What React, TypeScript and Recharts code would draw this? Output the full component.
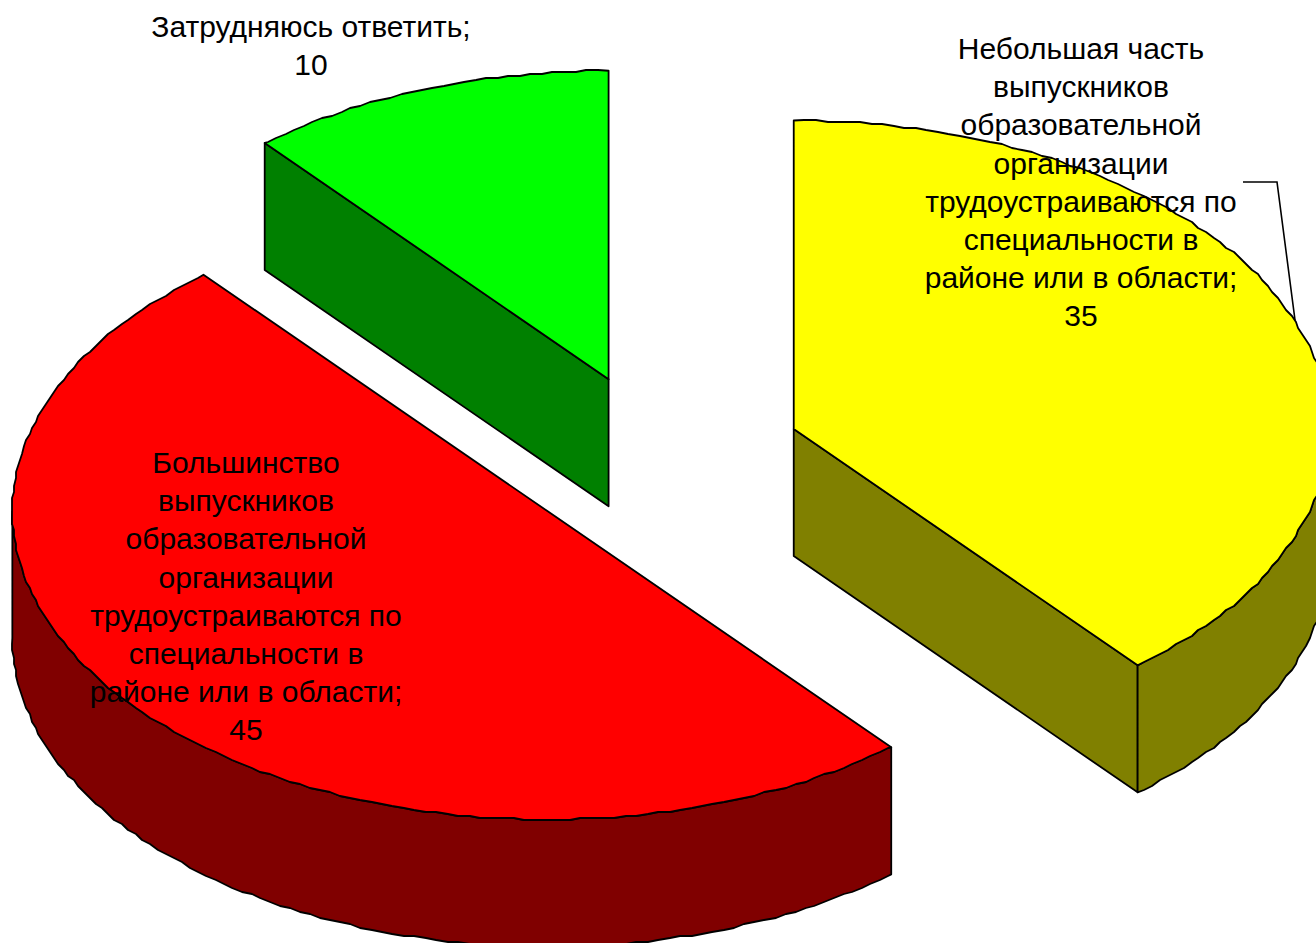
import React from 'react';
import { PieChart, Pie, Cell } from 'recharts';

const categories = [
    'Небольшая часть выпускников образовательной организации трудоустраиваются по специальности в районе или в области',
    'Большинство выпускников образовательной организации трудоустраиваются по специальности в районе или в области',
    'Затрудняюсь ответить',
];
const values = [35, 45, 10];
const topColors = ['#ffff00', '#ff0000', '#00ff00'];
const sideColors = ['#808000', '#800000', '#008000'];

// how each label is broken up, same order as categories
const labelLines = [
    ['Небольшая часть', 'выпускников', 'образовательной', 'организации', 'трудоустраиваются по', 'специальности в', 'районе или в области;'],
    ['Большинство', 'выпускников', 'образовательной', 'организации', 'трудоустраиваются по', 'специальности в', 'районе или в области;'],
    ['Затрудняюсь ответить;'],
];
const labelAnchors = [
    { x: 1081, y: 59 },
    { x: 246, y: 473 },
    { x: 311, y: 37 },
];

const WIDTH = 1316;
const HEIGHT = 943;
const CX = 658;
const CY = 457.5;
const RX = 535;
const RY = 308.5;
const DEPTH = 127;
const EXPLODE = 0.27;
const LINE_HEIGHT = 38.2;
const FONT_SIZE = 30;
const ARC_STEP = 1.2;

const chartData = categories.map((name, i) => ({ name, value: values[i] }));

const rad = (a: number) => (a * Math.PI) / 180;

// the old office chart has slightly wobbly arcs, so snap points to a coarse grid
const snap = (v: number) => Math.round(v / 2) * 2;

// inner points sit on a fixed angle grid so the wall and the top face share them
function arcPoints(cx: number, cy: number, from: number, to: number) {
    const pt = (a: number, exact: boolean) => {
        const x = cx + RX * Math.cos(rad(a));
        const y = cy - RY * Math.sin(rad(a));
        return exact ? `${x},${y}` : `${snap(x)},${snap(y)}`;
    };
    const pts = [pt(from, true)];
    const hi = Math.max(from, to);
    const lo = Math.min(from, to);
    const inner: string[] = [];
    for (let k = Math.floor(hi / ARC_STEP); k * ARC_STEP > lo; k--) {
        if (k * ARC_STEP < hi) inner.push(pt(k * ARC_STEP, false));
    }
    if (from < to) inner.reverse();
    pts.push(...inner, pt(to, true));
    return pts;
}

function Slice3D(props: any) {
    const { cx, cy, startAngle, endAngle, index } = props;
    const mid = (startAngle + endAngle) / 2;
    const ox = cx + EXPLODE * RX * Math.cos(rad(mid));
    const oy = cy - EXPLODE * RY * Math.sin(rad(mid));
    const top = topColors[index];
    const side = sideColors[index];
    const common = { stroke: '#000', strokeWidth: 1.8, strokeLinejoin: 'round' as const };

    const rim = (a: number) => [ox + RX * Math.cos(rad(a)), oy - RY * Math.sin(rad(a))];
    const radialFace = (a: number) => {
        const [x, y] = rim(a);
        return `${ox},${oy} ${x},${y} ${x},${y + DEPTH} ${ox},${oy + DEPTH}`;
    };

    const faces: React.ReactNode[] = [];
    // a cut face shows only if its outward normal points at the viewer
    if (Math.sin(rad(startAngle + 90)) < -0.01) faces.push(<polygon key="s" points={radialFace(startAngle)} fill={side} {...common} />);
    if (Math.sin(rad(endAngle - 90)) < -0.01) faces.push(<polygon key="e" points={radialFace(endAngle)} fill={side} {...common} />);

    // outer wall, only the part of the arc in the front half
    const wallFrom = Math.min(startAngle, 0);
    const wallTo = Math.max(endAngle, -180);
    if (wallFrom > wallTo) {
        const front = arcPoints(ox, oy, wallFrom, wallTo);
        const back = arcPoints(ox, oy + DEPTH, wallTo, wallFrom);
        faces.push(<polygon key="w" points={[...front, ...back].join(' ')} fill={side} {...common} />);
    }

    const topFace = [`${ox},${oy}`, ...arcPoints(ox, oy, startAngle, endAngle)].join(' ');
    return (
        <g>
            {faces}
            <polygon points={topFace} fill={top} {...common} />
        </g>
    );
}

function SliceLabel(props: any) {
    const { index, value } = props;
    const anchor = labelAnchors[index];
    const lines = [...labelLines[index], String(value)];
    return (
        <g>
            <text x={anchor.x} y={anchor.y} textAnchor="middle" fontFamily="'Liberation Sans', Arial, sans-serif" fontSize={FONT_SIZE} fill="#000">
                {lines.map((line, i) => (
                    <tspan key={i} x={anchor.x} dy={i === 0 ? 0 : LINE_HEIGHT}>{line}</tspan>
                ))}
            </text>
            {index === 0 && <polyline points="1243,182 1277,182 1295,320" fill="none" stroke="#000" strokeWidth={1.6} />}
        </g>
    );
}

export default function App() {
    return (
        <div style={{ position: 'absolute', left: 0, top: 0, width: WIDTH, height: HEIGHT, background: '#fff', overflow: 'hidden' }}>
            <PieChart width={WIDTH} height={HEIGHT} margin={{ top: 0, right: 0, bottom: 0, left: 0 }}>
                <Pie
                    data={chartData}
                    dataKey="value"
                    nameKey="name"
                    cx={CX}
                    cy={CY}
                    innerRadius={0}
                    outerRadius={RX}
                    startAngle={90}
                    endAngle={-270}
                    isAnimationActive={false}
                    shape={Slice3D}
                    label={SliceLabel}
                    labelLine={false}
                >
                    {chartData.map((d, i) => (
                        <Cell key={d.name} fill={topColors[i]} />
                    ))}
                </Pie>
            </PieChart>
        </div>
    );
}
